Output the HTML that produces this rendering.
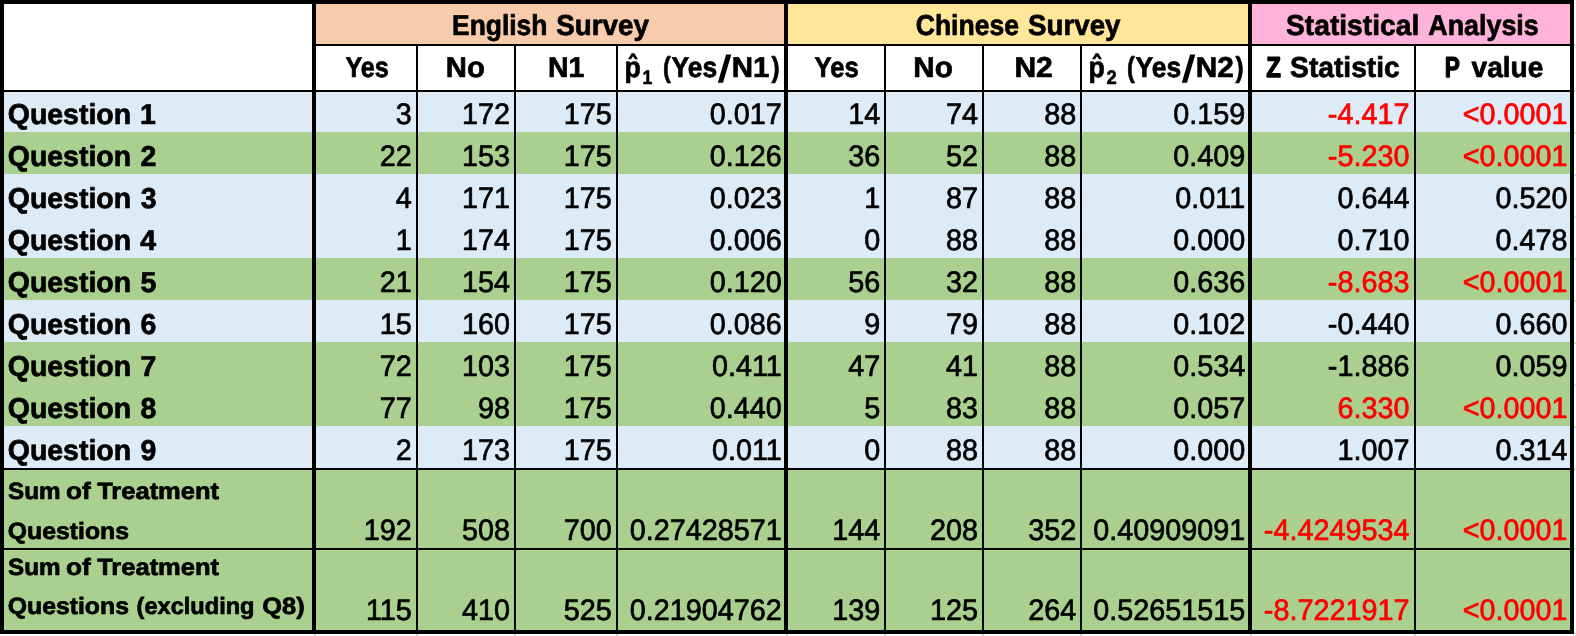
<!DOCTYPE html><html><head><meta charset="utf-8"><title>Survey table</title><style>html,body{margin:0;padding:0;background:#fff;overflow:hidden}svg{display:block;will-change:transform}text{font-family:"Liberation Sans",sans-serif;text-rendering:geometricPrecision}</style></head><body><svg width="1576" height="636" viewBox="0 0 1576 636" shape-rendering="crispEdges"><rect width="1576" height="636" fill="#fff"/>
<rect x="314" y="2" width="472" height="43" fill="#F8CBAD"/>
<rect x="786" y="2" width="464" height="43" fill="#FFE699"/>
<rect x="1250" y="2" width="322" height="43" fill="#FFB3D9"/>
<rect x="2" y="90" width="1570" height="42" fill="#DDEBF7"/>
<rect x="2" y="132" width="1570" height="42" fill="#A9D08E"/>
<rect x="2" y="174" width="1570" height="42" fill="#DDEBF7"/>
<rect x="2" y="216" width="1570" height="42" fill="#DDEBF7"/>
<rect x="2" y="258" width="1570" height="42" fill="#A9D08E"/>
<rect x="2" y="300" width="1570" height="42" fill="#DDEBF7"/>
<rect x="2" y="342" width="1570" height="42" fill="#A9D08E"/>
<rect x="2" y="384" width="1570" height="42" fill="#A9D08E"/>
<rect x="2" y="426" width="1570" height="42" fill="#DDEBF7"/>
<rect x="2" y="468" width="1570" height="164" fill="#A9D08E"/>
<rect x="314" y="634" width="2" height="2" fill="#d0d0d0"/>
<rect x="786" y="634" width="2" height="2" fill="#d0d0d0"/>
<rect x="1250" y="634" width="2" height="2" fill="#d0d0d0"/>
<rect x="416" y="634" width="2" height="2" fill="#d0d0d0"/>
<rect x="514" y="634" width="2" height="2" fill="#d0d0d0"/>
<rect x="616" y="634" width="2" height="2" fill="#d0d0d0"/>
<rect x="884" y="634" width="2" height="2" fill="#d0d0d0"/>
<rect x="982" y="634" width="2" height="2" fill="#d0d0d0"/>
<rect x="1080" y="634" width="2" height="2" fill="#d0d0d0"/>
<rect x="1414" y="634" width="2" height="2" fill="#d0d0d0"/>
<rect x="1574" y="44" width="2" height="2" fill="#e2e2e2"/>
<rect x="1574" y="632" width="2" height="2" fill="#e2e2e2"/>
<rect x="1574" y="90" width="2" height="2" fill="#e2e2e2"/>
<rect x="1574" y="132" width="2" height="2" fill="#e2e2e2"/>
<rect x="1574" y="174" width="2" height="2" fill="#e2e2e2"/>
<rect x="1574" y="216" width="2" height="2" fill="#e2e2e2"/>
<rect x="1574" y="258" width="2" height="2" fill="#e2e2e2"/>
<rect x="1574" y="300" width="2" height="2" fill="#e2e2e2"/>
<rect x="1574" y="342" width="2" height="2" fill="#e2e2e2"/>
<rect x="1574" y="384" width="2" height="2" fill="#e2e2e2"/>
<rect x="1574" y="426" width="2" height="2" fill="#e2e2e2"/>
<rect x="1574" y="468" width="2" height="2" fill="#e2e2e2"/>
<rect x="1574" y="548" width="2" height="2" fill="#e2e2e2"/>
<rect x="416" y="44" width="2" height="588"/>
<rect x="514" y="44" width="2" height="588"/>
<rect x="616" y="44" width="2" height="588"/>
<rect x="884" y="44" width="2" height="588"/>
<rect x="982" y="44" width="2" height="588"/>
<rect x="1080" y="44" width="2" height="588"/>
<rect x="1414" y="44" width="2" height="588"/>
<rect x="314" y="44" width="1258" height="2"/>
<rect x="0" y="90" width="1574" height="2"/>
<rect x="0" y="468" width="1574" height="2"/>
<rect x="0" y="548" width="1574" height="2"/>
<rect x="0" y="0" width="4" height="634"/>
<rect x="312" y="0" width="4" height="634"/>
<rect x="784" y="0" width="4" height="634"/>
<rect x="1248" y="0" width="4" height="634"/>
<rect x="1570" y="0" width="4" height="634"/>
<rect width="1574" height="4"/>
<rect y="630" width="1574" height="4"/>
<polygon shape-rendering="geometricPrecision" points="717.8,82.7 723.0,82.7 731.3,54.6 726.1,54.6"/>
<polygon shape-rendering="geometricPrecision" points="628.00,59.2 631.70,53.2 634.30,53.2 638.00,59.2 634.90,59.2 633.00,56.3 631.10,59.2"/>
<polygon shape-rendering="geometricPrecision" points="1181.8,82.7 1187.0,82.7 1195.3,54.6 1190.1,54.6"/>
<polygon shape-rendering="geometricPrecision" points="1092.00,59.2 1095.70,53.2 1098.30,53.2 1102.00,59.2 1098.90,59.2 1097.00,56.3 1095.10,59.2"/>
<text transform="translate(452.00,35.1) scale(0.9214,1)" font-weight="700" font-size="28.7" stroke="#000" stroke-width="0.7" stroke-linejoin="round">English</text>
<text transform="translate(556.32,35.1) scale(0.9678,1)" font-weight="700" font-size="28.7" stroke="#000" stroke-width="0.7" stroke-linejoin="round">Survey</text>
<text transform="translate(915.69,35.1) scale(0.9262,1)" font-weight="700" font-size="28.7" stroke="#000" stroke-width="0.7" stroke-linejoin="round">Chinese</text>
<text transform="translate(1028.12,35.1) scale(0.9646,1)" font-weight="700" font-size="28.7" stroke="#000" stroke-width="0.7" stroke-linejoin="round">Survey</text>
<text transform="translate(1286.01,35.1) scale(0.9829,1)" font-weight="700" font-size="28.7" stroke="#000" stroke-width="0.7" stroke-linejoin="round">Statistical</text>
<text transform="translate(1428.35,35.1) scale(0.9353,1)" font-weight="700" font-size="28.7" stroke="#000" stroke-width="0.7" stroke-linejoin="round">Analysis</text>
<text transform="translate(345.39,77.4) scale(0.8784,1)" font-weight="700" font-size="28.7" stroke="#000" stroke-width="0.7" stroke-linejoin="round">Yes</text>
<text transform="translate(445.84,77.4) scale(1.0202,1)" font-weight="700" font-size="28.7" stroke="#000" stroke-width="0.7" stroke-linejoin="round">No</text>
<text transform="translate(547.99,77.4) scale(0.9935,1)" font-weight="700" font-size="28.7" stroke="#000" stroke-width="0.7" stroke-linejoin="round">N1</text>
<text transform="translate(814.39,77.4) scale(0.8969,1)" font-weight="700" font-size="28.7" stroke="#000" stroke-width="0.7" stroke-linejoin="round">Yes</text>
<text transform="translate(913.32,77.4) scale(1.0341,1)" font-weight="700" font-size="28.7" stroke="#000" stroke-width="0.7" stroke-linejoin="round">No</text>
<text transform="translate(1014.40,77.4) scale(1.0482,1)" font-weight="700" font-size="28.7" stroke="#000" stroke-width="0.7" stroke-linejoin="round">N2</text>
<text transform="translate(1266.19,77.4) scale(0.8350,1)" font-weight="700" font-size="28.7" stroke="#000" stroke-width="1.3" stroke-linejoin="round">Z</text>
<text transform="translate(1290.11,77.4) scale(0.9826,1)" font-weight="700" font-size="28.7" stroke="#000" stroke-width="0.7" stroke-linejoin="round">Statistic</text>
<text transform="translate(1444.81,77.4) scale(0.7886,1)" font-weight="700" font-size="28.7" stroke="#000" stroke-width="1.3" stroke-linejoin="round">P</text>
<text transform="translate(1471.54,77.4) scale(0.9795,1)" font-weight="700" font-size="28.7" stroke="#000" stroke-width="0.7" stroke-linejoin="round">value</text>
<text transform="translate(624.50,77.4) scale(0.9311,1)" font-weight="700" font-size="28.7" stroke="#000" stroke-width="0.7" stroke-linejoin="round">p</text>
<text transform="translate(642.61,83.55000000000001) scale(0.9026,1)" font-weight="700" font-size="19.5" stroke="#000" stroke-width="0.6" stroke-linejoin="round">1</text>
<text transform="translate(662.89,77.4) scale(0.8114,1)" font-weight="700" font-size="28.7" stroke="#000" stroke-width="0.7" stroke-linejoin="round">(</text>
<text transform="translate(671.48,77.4) scale(0.9237,1)" font-weight="700" font-size="28.7" stroke="#000" stroke-width="0.7" stroke-linejoin="round">Yes</text>
<text transform="translate(731.73,77.4) scale(1.0282,1)" font-weight="700" font-size="28.7" stroke="#000" stroke-width="0.7" stroke-linejoin="round">N1</text>
<text transform="translate(771.52,77.4) scale(0.8451,1)" font-weight="700" font-size="28.7" stroke="#000" stroke-width="0.7" stroke-linejoin="round">)</text>
<text transform="translate(1088.50,77.4) scale(0.9311,1)" font-weight="700" font-size="28.7" stroke="#000" stroke-width="0.7" stroke-linejoin="round">p</text>
<text transform="translate(1106.45,83.55000000000001) scale(0.9400,1)" font-weight="700" font-size="19.5" stroke="#000" stroke-width="0.6" stroke-linejoin="round">2</text>
<text transform="translate(1126.89,77.4) scale(0.8114,1)" font-weight="700" font-size="28.7" stroke="#000" stroke-width="0.7" stroke-linejoin="round">(</text>
<text transform="translate(1135.48,77.4) scale(0.9237,1)" font-weight="700" font-size="28.7" stroke="#000" stroke-width="0.7" stroke-linejoin="round">Yes</text>
<text transform="translate(1195.71,77.4) scale(1.0394,1)" font-weight="700" font-size="28.7" stroke="#000" stroke-width="0.7" stroke-linejoin="round">N2</text>
<text transform="translate(1235.52,77.4) scale(0.8451,1)" font-weight="700" font-size="28.7" stroke="#000" stroke-width="0.7" stroke-linejoin="round">)</text>
<text transform="translate(7.73,123.7) scale(0.9926,1)" font-weight="700" font-size="28.7" stroke="#000" stroke-width="0.7" stroke-linejoin="round">Question</text>
<text transform="translate(139.96,123.7) scale(0.9926,1)" font-weight="700" font-size="28.7" stroke="#000" stroke-width="0.7" stroke-linejoin="round">1</text>
<text transform="translate(7.73,165.7) scale(0.9926,1)" font-weight="700" font-size="28.7" stroke="#000" stroke-width="0.7" stroke-linejoin="round">Question</text>
<text transform="translate(140.58,165.7) scale(0.9926,1)" font-weight="700" font-size="28.7" stroke="#000" stroke-width="0.7" stroke-linejoin="round">2</text>
<text transform="translate(7.73,207.7) scale(0.9926,1)" font-weight="700" font-size="28.7" stroke="#000" stroke-width="0.7" stroke-linejoin="round">Question</text>
<text transform="translate(140.65,207.7) scale(0.9926,1)" font-weight="700" font-size="28.7" stroke="#000" stroke-width="0.7" stroke-linejoin="round">3</text>
<text transform="translate(7.73,249.7) scale(0.9926,1)" font-weight="700" font-size="28.7" stroke="#000" stroke-width="0.7" stroke-linejoin="round">Question</text>
<text transform="translate(140.33,249.7) scale(0.9926,1)" font-weight="700" font-size="28.7" stroke="#000" stroke-width="0.7" stroke-linejoin="round">4</text>
<text transform="translate(7.73,291.7) scale(0.9926,1)" font-weight="700" font-size="28.7" stroke="#000" stroke-width="0.7" stroke-linejoin="round">Question</text>
<text transform="translate(140.46,291.7) scale(0.9926,1)" font-weight="700" font-size="28.7" stroke="#000" stroke-width="0.7" stroke-linejoin="round">5</text>
<text transform="translate(7.73,333.7) scale(0.9926,1)" font-weight="700" font-size="28.7" stroke="#000" stroke-width="0.7" stroke-linejoin="round">Question</text>
<text transform="translate(140.46,333.7) scale(0.9926,1)" font-weight="700" font-size="28.7" stroke="#000" stroke-width="0.7" stroke-linejoin="round">6</text>
<text transform="translate(7.73,375.7) scale(0.9926,1)" font-weight="700" font-size="28.7" stroke="#000" stroke-width="0.7" stroke-linejoin="round">Question</text>
<text transform="translate(140.52,375.7) scale(0.9926,1)" font-weight="700" font-size="28.7" stroke="#000" stroke-width="0.7" stroke-linejoin="round">7</text>
<text transform="translate(7.73,417.7) scale(0.9926,1)" font-weight="700" font-size="28.7" stroke="#000" stroke-width="0.7" stroke-linejoin="round">Question</text>
<text transform="translate(140.46,417.7) scale(0.9926,1)" font-weight="700" font-size="28.7" stroke="#000" stroke-width="0.7" stroke-linejoin="round">8</text>
<text transform="translate(7.73,459.7) scale(0.9926,1)" font-weight="700" font-size="28.7" stroke="#000" stroke-width="0.7" stroke-linejoin="round">Question</text>
<text transform="translate(140.52,459.7) scale(0.9926,1)" font-weight="700" font-size="28.7" stroke="#000" stroke-width="0.7" stroke-linejoin="round">9</text>
<text transform="translate(8.11,499.4) scale(1.0277,1)" font-weight="700" font-size="23.6" stroke="#000" stroke-width="0.7" stroke-linejoin="round">Sum</text>
<text transform="translate(66.11,499.4) scale(1.1091,1)" font-weight="700" font-size="23.6" stroke="#000" stroke-width="0.7" stroke-linejoin="round">of</text>
<text transform="translate(97.14,499.4) scale(1.0814,1)" font-weight="700" font-size="23.6" stroke="#000" stroke-width="0.7" stroke-linejoin="round">Treatment</text>
<text transform="translate(8.11,574.8) scale(1.0277,1)" font-weight="700" font-size="23.6" stroke="#000" stroke-width="0.7" stroke-linejoin="round">Sum</text>
<text transform="translate(66.11,574.8) scale(1.1091,1)" font-weight="700" font-size="23.6" stroke="#000" stroke-width="0.7" stroke-linejoin="round">of</text>
<text transform="translate(97.14,574.8) scale(1.0814,1)" font-weight="700" font-size="23.6" stroke="#000" stroke-width="0.7" stroke-linejoin="round">Treatment</text>
<text transform="translate(7.84,538.8) scale(1.0506,1)" font-weight="700" font-size="23.6" stroke="#000" stroke-width="0.7" stroke-linejoin="round">Questions</text>
<text transform="translate(7.74,614.3) scale(1.0506,1)" font-weight="700" font-size="23.6" stroke="#000" stroke-width="0.7" stroke-linejoin="round">Questions</text>
<text transform="translate(136.52,614.3) scale(1.0002,1)" font-weight="700" font-size="23.6" stroke="#000" stroke-width="0.7" stroke-linejoin="round">(excluding</text>
<text transform="translate(262.33,614.3) scale(1.0785,1)" font-weight="700" font-size="23.6" stroke="#000" stroke-width="0.7" stroke-linejoin="round">Q8)</text>
<text transform="translate(411.8,123.9) scale(0.972,1)" text-anchor="end" font-size="29.6" stroke="#000" stroke-width="0.7">3</text>
<text transform="translate(510.0,123.9) scale(0.972,1)" text-anchor="end" font-size="29.6" stroke="#000" stroke-width="0.7">172</text>
<text transform="translate(611.8,123.9) scale(0.972,1)" text-anchor="end" font-size="29.6" stroke="#000" stroke-width="0.7">175</text>
<text transform="translate(781.8,123.9) scale(0.972,1)" text-anchor="end" font-size="29.6" stroke="#000" stroke-width="0.7">0.017</text>
<text transform="translate(880.35,123.9) scale(0.972,1)" text-anchor="end" font-size="29.6" stroke="#000" stroke-width="0.7">14</text>
<text transform="translate(978.0,123.9) scale(0.972,1)" text-anchor="end" font-size="29.6" stroke="#000" stroke-width="0.7">74</text>
<text transform="translate(1076.2,123.9) scale(0.972,1)" text-anchor="end" font-size="29.6" stroke="#000" stroke-width="0.7">88</text>
<text transform="translate(1245.2,123.9) scale(0.972,1)" text-anchor="end" font-size="29.6" stroke="#000" stroke-width="0.7">0.159</text>
<text transform="translate(1409.4,123.9) scale(0.972,1)" text-anchor="end" font-size="29.6" fill="#FF0000" stroke="#FF0000" stroke-width="0.7">-4.417</text>
<text transform="translate(1567.5,123.9) scale(0.972,1)" text-anchor="end" font-size="29.6" fill="#FF0000" stroke="#FF0000" stroke-width="0.7">&lt;0.0001</text>
<text transform="translate(411.8,165.9) scale(0.972,1)" text-anchor="end" font-size="29.6" stroke="#000" stroke-width="0.7">22</text>
<text transform="translate(510.0,165.9) scale(0.972,1)" text-anchor="end" font-size="29.6" stroke="#000" stroke-width="0.7">153</text>
<text transform="translate(611.8,165.9) scale(0.972,1)" text-anchor="end" font-size="29.6" stroke="#000" stroke-width="0.7">175</text>
<text transform="translate(781.8,165.9) scale(0.972,1)" text-anchor="end" font-size="29.6" stroke="#000" stroke-width="0.7">0.126</text>
<text transform="translate(880.35,165.9) scale(0.972,1)" text-anchor="end" font-size="29.6" stroke="#000" stroke-width="0.7">36</text>
<text transform="translate(978.0,165.9) scale(0.972,1)" text-anchor="end" font-size="29.6" stroke="#000" stroke-width="0.7">52</text>
<text transform="translate(1076.2,165.9) scale(0.972,1)" text-anchor="end" font-size="29.6" stroke="#000" stroke-width="0.7">88</text>
<text transform="translate(1245.2,165.9) scale(0.972,1)" text-anchor="end" font-size="29.6" stroke="#000" stroke-width="0.7">0.409</text>
<text transform="translate(1409.4,165.9) scale(0.972,1)" text-anchor="end" font-size="29.6" fill="#FF0000" stroke="#FF0000" stroke-width="0.7">-5.230</text>
<text transform="translate(1567.5,165.9) scale(0.972,1)" text-anchor="end" font-size="29.6" fill="#FF0000" stroke="#FF0000" stroke-width="0.7">&lt;0.0001</text>
<text transform="translate(411.8,207.9) scale(0.972,1)" text-anchor="end" font-size="29.6" stroke="#000" stroke-width="0.7">4</text>
<text transform="translate(510.0,207.9) scale(0.972,1)" text-anchor="end" font-size="29.6" stroke="#000" stroke-width="0.7">171</text>
<text transform="translate(611.8,207.9) scale(0.972,1)" text-anchor="end" font-size="29.6" stroke="#000" stroke-width="0.7">175</text>
<text transform="translate(781.8,207.9) scale(0.972,1)" text-anchor="end" font-size="29.6" stroke="#000" stroke-width="0.7">0.023</text>
<text transform="translate(880.35,207.9) scale(0.972,1)" text-anchor="end" font-size="29.6" stroke="#000" stroke-width="0.7">1</text>
<text transform="translate(978.0,207.9) scale(0.972,1)" text-anchor="end" font-size="29.6" stroke="#000" stroke-width="0.7">87</text>
<text transform="translate(1076.2,207.9) scale(0.972,1)" text-anchor="end" font-size="29.6" stroke="#000" stroke-width="0.7">88</text>
<text transform="translate(1245.2,207.9) scale(0.972,1)" text-anchor="end" font-size="29.6" stroke="#000" stroke-width="0.7">0.011</text>
<text transform="translate(1409.4,207.9) scale(0.972,1)" text-anchor="end" font-size="29.6" stroke="#000" stroke-width="0.7">0.644</text>
<text transform="translate(1567.5,207.9) scale(0.972,1)" text-anchor="end" font-size="29.6" stroke="#000" stroke-width="0.7">0.520</text>
<text transform="translate(411.8,249.9) scale(0.972,1)" text-anchor="end" font-size="29.6" stroke="#000" stroke-width="0.7">1</text>
<text transform="translate(510.0,249.9) scale(0.972,1)" text-anchor="end" font-size="29.6" stroke="#000" stroke-width="0.7">174</text>
<text transform="translate(611.8,249.9) scale(0.972,1)" text-anchor="end" font-size="29.6" stroke="#000" stroke-width="0.7">175</text>
<text transform="translate(781.8,249.9) scale(0.972,1)" text-anchor="end" font-size="29.6" stroke="#000" stroke-width="0.7">0.006</text>
<text transform="translate(880.35,249.9) scale(0.972,1)" text-anchor="end" font-size="29.6" stroke="#000" stroke-width="0.7">0</text>
<text transform="translate(978.0,249.9) scale(0.972,1)" text-anchor="end" font-size="29.6" stroke="#000" stroke-width="0.7">88</text>
<text transform="translate(1076.2,249.9) scale(0.972,1)" text-anchor="end" font-size="29.6" stroke="#000" stroke-width="0.7">88</text>
<text transform="translate(1245.2,249.9) scale(0.972,1)" text-anchor="end" font-size="29.6" stroke="#000" stroke-width="0.7">0.000</text>
<text transform="translate(1409.4,249.9) scale(0.972,1)" text-anchor="end" font-size="29.6" stroke="#000" stroke-width="0.7">0.710</text>
<text transform="translate(1567.5,249.9) scale(0.972,1)" text-anchor="end" font-size="29.6" stroke="#000" stroke-width="0.7">0.478</text>
<text transform="translate(411.8,291.9) scale(0.972,1)" text-anchor="end" font-size="29.6" stroke="#000" stroke-width="0.7">21</text>
<text transform="translate(510.0,291.9) scale(0.972,1)" text-anchor="end" font-size="29.6" stroke="#000" stroke-width="0.7">154</text>
<text transform="translate(611.8,291.9) scale(0.972,1)" text-anchor="end" font-size="29.6" stroke="#000" stroke-width="0.7">175</text>
<text transform="translate(781.8,291.9) scale(0.972,1)" text-anchor="end" font-size="29.6" stroke="#000" stroke-width="0.7">0.120</text>
<text transform="translate(880.35,291.9) scale(0.972,1)" text-anchor="end" font-size="29.6" stroke="#000" stroke-width="0.7">56</text>
<text transform="translate(978.0,291.9) scale(0.972,1)" text-anchor="end" font-size="29.6" stroke="#000" stroke-width="0.7">32</text>
<text transform="translate(1076.2,291.9) scale(0.972,1)" text-anchor="end" font-size="29.6" stroke="#000" stroke-width="0.7">88</text>
<text transform="translate(1245.2,291.9) scale(0.972,1)" text-anchor="end" font-size="29.6" stroke="#000" stroke-width="0.7">0.636</text>
<text transform="translate(1409.4,291.9) scale(0.972,1)" text-anchor="end" font-size="29.6" fill="#FF0000" stroke="#FF0000" stroke-width="0.7">-8.683</text>
<text transform="translate(1567.5,291.9) scale(0.972,1)" text-anchor="end" font-size="29.6" fill="#FF0000" stroke="#FF0000" stroke-width="0.7">&lt;0.0001</text>
<text transform="translate(411.8,333.9) scale(0.972,1)" text-anchor="end" font-size="29.6" stroke="#000" stroke-width="0.7">15</text>
<text transform="translate(510.0,333.9) scale(0.972,1)" text-anchor="end" font-size="29.6" stroke="#000" stroke-width="0.7">160</text>
<text transform="translate(611.8,333.9) scale(0.972,1)" text-anchor="end" font-size="29.6" stroke="#000" stroke-width="0.7">175</text>
<text transform="translate(781.8,333.9) scale(0.972,1)" text-anchor="end" font-size="29.6" stroke="#000" stroke-width="0.7">0.086</text>
<text transform="translate(880.35,333.9) scale(0.972,1)" text-anchor="end" font-size="29.6" stroke="#000" stroke-width="0.7">9</text>
<text transform="translate(978.0,333.9) scale(0.972,1)" text-anchor="end" font-size="29.6" stroke="#000" stroke-width="0.7">79</text>
<text transform="translate(1076.2,333.9) scale(0.972,1)" text-anchor="end" font-size="29.6" stroke="#000" stroke-width="0.7">88</text>
<text transform="translate(1245.2,333.9) scale(0.972,1)" text-anchor="end" font-size="29.6" stroke="#000" stroke-width="0.7">0.102</text>
<text transform="translate(1409.4,333.9) scale(0.972,1)" text-anchor="end" font-size="29.6" stroke="#000" stroke-width="0.7">-0.440</text>
<text transform="translate(1567.5,333.9) scale(0.972,1)" text-anchor="end" font-size="29.6" stroke="#000" stroke-width="0.7">0.660</text>
<text transform="translate(411.8,375.9) scale(0.972,1)" text-anchor="end" font-size="29.6" stroke="#000" stroke-width="0.7">72</text>
<text transform="translate(510.0,375.9) scale(0.972,1)" text-anchor="end" font-size="29.6" stroke="#000" stroke-width="0.7">103</text>
<text transform="translate(611.8,375.9) scale(0.972,1)" text-anchor="end" font-size="29.6" stroke="#000" stroke-width="0.7">175</text>
<text transform="translate(781.8,375.9) scale(0.972,1)" text-anchor="end" font-size="29.6" stroke="#000" stroke-width="0.7">0.411</text>
<text transform="translate(880.35,375.9) scale(0.972,1)" text-anchor="end" font-size="29.6" stroke="#000" stroke-width="0.7">47</text>
<text transform="translate(978.0,375.9) scale(0.972,1)" text-anchor="end" font-size="29.6" stroke="#000" stroke-width="0.7">41</text>
<text transform="translate(1076.2,375.9) scale(0.972,1)" text-anchor="end" font-size="29.6" stroke="#000" stroke-width="0.7">88</text>
<text transform="translate(1245.2,375.9) scale(0.972,1)" text-anchor="end" font-size="29.6" stroke="#000" stroke-width="0.7">0.534</text>
<text transform="translate(1409.4,375.9) scale(0.972,1)" text-anchor="end" font-size="29.6" stroke="#000" stroke-width="0.7">-1.886</text>
<text transform="translate(1567.5,375.9) scale(0.972,1)" text-anchor="end" font-size="29.6" stroke="#000" stroke-width="0.7">0.059</text>
<text transform="translate(411.8,417.9) scale(0.972,1)" text-anchor="end" font-size="29.6" stroke="#000" stroke-width="0.7">77</text>
<text transform="translate(510.0,417.9) scale(0.972,1)" text-anchor="end" font-size="29.6" stroke="#000" stroke-width="0.7">98</text>
<text transform="translate(611.8,417.9) scale(0.972,1)" text-anchor="end" font-size="29.6" stroke="#000" stroke-width="0.7">175</text>
<text transform="translate(781.8,417.9) scale(0.972,1)" text-anchor="end" font-size="29.6" stroke="#000" stroke-width="0.7">0.440</text>
<text transform="translate(880.35,417.9) scale(0.972,1)" text-anchor="end" font-size="29.6" stroke="#000" stroke-width="0.7">5</text>
<text transform="translate(978.0,417.9) scale(0.972,1)" text-anchor="end" font-size="29.6" stroke="#000" stroke-width="0.7">83</text>
<text transform="translate(1076.2,417.9) scale(0.972,1)" text-anchor="end" font-size="29.6" stroke="#000" stroke-width="0.7">88</text>
<text transform="translate(1245.2,417.9) scale(0.972,1)" text-anchor="end" font-size="29.6" stroke="#000" stroke-width="0.7">0.057</text>
<text transform="translate(1409.4,417.9) scale(0.972,1)" text-anchor="end" font-size="29.6" fill="#FF0000" stroke="#FF0000" stroke-width="0.7">6.330</text>
<text transform="translate(1567.5,417.9) scale(0.972,1)" text-anchor="end" font-size="29.6" fill="#FF0000" stroke="#FF0000" stroke-width="0.7">&lt;0.0001</text>
<text transform="translate(411.8,459.9) scale(0.972,1)" text-anchor="end" font-size="29.6" stroke="#000" stroke-width="0.7">2</text>
<text transform="translate(510.0,459.9) scale(0.972,1)" text-anchor="end" font-size="29.6" stroke="#000" stroke-width="0.7">173</text>
<text transform="translate(611.8,459.9) scale(0.972,1)" text-anchor="end" font-size="29.6" stroke="#000" stroke-width="0.7">175</text>
<text transform="translate(781.8,459.9) scale(0.972,1)" text-anchor="end" font-size="29.6" stroke="#000" stroke-width="0.7">0.011</text>
<text transform="translate(880.35,459.9) scale(0.972,1)" text-anchor="end" font-size="29.6" stroke="#000" stroke-width="0.7">0</text>
<text transform="translate(978.0,459.9) scale(0.972,1)" text-anchor="end" font-size="29.6" stroke="#000" stroke-width="0.7">88</text>
<text transform="translate(1076.2,459.9) scale(0.972,1)" text-anchor="end" font-size="29.6" stroke="#000" stroke-width="0.7">88</text>
<text transform="translate(1245.2,459.9) scale(0.972,1)" text-anchor="end" font-size="29.6" stroke="#000" stroke-width="0.7">0.000</text>
<text transform="translate(1409.4,459.9) scale(0.972,1)" text-anchor="end" font-size="29.6" stroke="#000" stroke-width="0.7">1.007</text>
<text transform="translate(1567.5,459.9) scale(0.972,1)" text-anchor="end" font-size="29.6" stroke="#000" stroke-width="0.7">0.314</text>
<text transform="translate(411.8,539.6) scale(0.972,1)" text-anchor="end" font-size="29.6" stroke="#000" stroke-width="0.7">192</text>
<text transform="translate(510.0,539.6) scale(0.972,1)" text-anchor="end" font-size="29.6" stroke="#000" stroke-width="0.7">508</text>
<text transform="translate(611.8,539.6) scale(0.972,1)" text-anchor="end" font-size="29.6" stroke="#000" stroke-width="0.7">700</text>
<text transform="translate(781.8,539.6) scale(0.972,1)" text-anchor="end" font-size="29.6" stroke="#000" stroke-width="0.7">0.27428571</text>
<text transform="translate(880.35,539.6) scale(0.972,1)" text-anchor="end" font-size="29.6" stroke="#000" stroke-width="0.7">144</text>
<text transform="translate(978.0,539.6) scale(0.972,1)" text-anchor="end" font-size="29.6" stroke="#000" stroke-width="0.7">208</text>
<text transform="translate(1076.2,539.6) scale(0.972,1)" text-anchor="end" font-size="29.6" stroke="#000" stroke-width="0.7">352</text>
<text transform="translate(1245.2,539.6) scale(0.972,1)" text-anchor="end" font-size="29.6" stroke="#000" stroke-width="0.7">0.40909091</text>
<text transform="translate(1409.4,539.6) scale(0.972,1)" text-anchor="end" font-size="29.6" fill="#FF0000" stroke="#FF0000" stroke-width="0.7">-4.4249534</text>
<text transform="translate(1567.5,539.6) scale(0.972,1)" text-anchor="end" font-size="29.6" fill="#FF0000" stroke="#FF0000" stroke-width="0.7">&lt;0.0001</text>
<text transform="translate(411.8,619.6) scale(0.972,1)" text-anchor="end" font-size="29.6" stroke="#000" stroke-width="0.7">115</text>
<text transform="translate(510.0,619.6) scale(0.972,1)" text-anchor="end" font-size="29.6" stroke="#000" stroke-width="0.7">410</text>
<text transform="translate(611.8,619.6) scale(0.972,1)" text-anchor="end" font-size="29.6" stroke="#000" stroke-width="0.7">525</text>
<text transform="translate(781.8,619.6) scale(0.972,1)" text-anchor="end" font-size="29.6" stroke="#000" stroke-width="0.7">0.21904762</text>
<text transform="translate(880.35,619.6) scale(0.972,1)" text-anchor="end" font-size="29.6" stroke="#000" stroke-width="0.7">139</text>
<text transform="translate(978.0,619.6) scale(0.972,1)" text-anchor="end" font-size="29.6" stroke="#000" stroke-width="0.7">125</text>
<text transform="translate(1076.2,619.6) scale(0.972,1)" text-anchor="end" font-size="29.6" stroke="#000" stroke-width="0.7">264</text>
<text transform="translate(1245.2,619.6) scale(0.972,1)" text-anchor="end" font-size="29.6" stroke="#000" stroke-width="0.7">0.52651515</text>
<text transform="translate(1409.4,619.6) scale(0.972,1)" text-anchor="end" font-size="29.6" fill="#FF0000" stroke="#FF0000" stroke-width="0.7">-8.7221917</text>
<text transform="translate(1567.5,619.6) scale(0.972,1)" text-anchor="end" font-size="29.6" fill="#FF0000" stroke="#FF0000" stroke-width="0.7">&lt;0.0001</text></svg></body></html>
